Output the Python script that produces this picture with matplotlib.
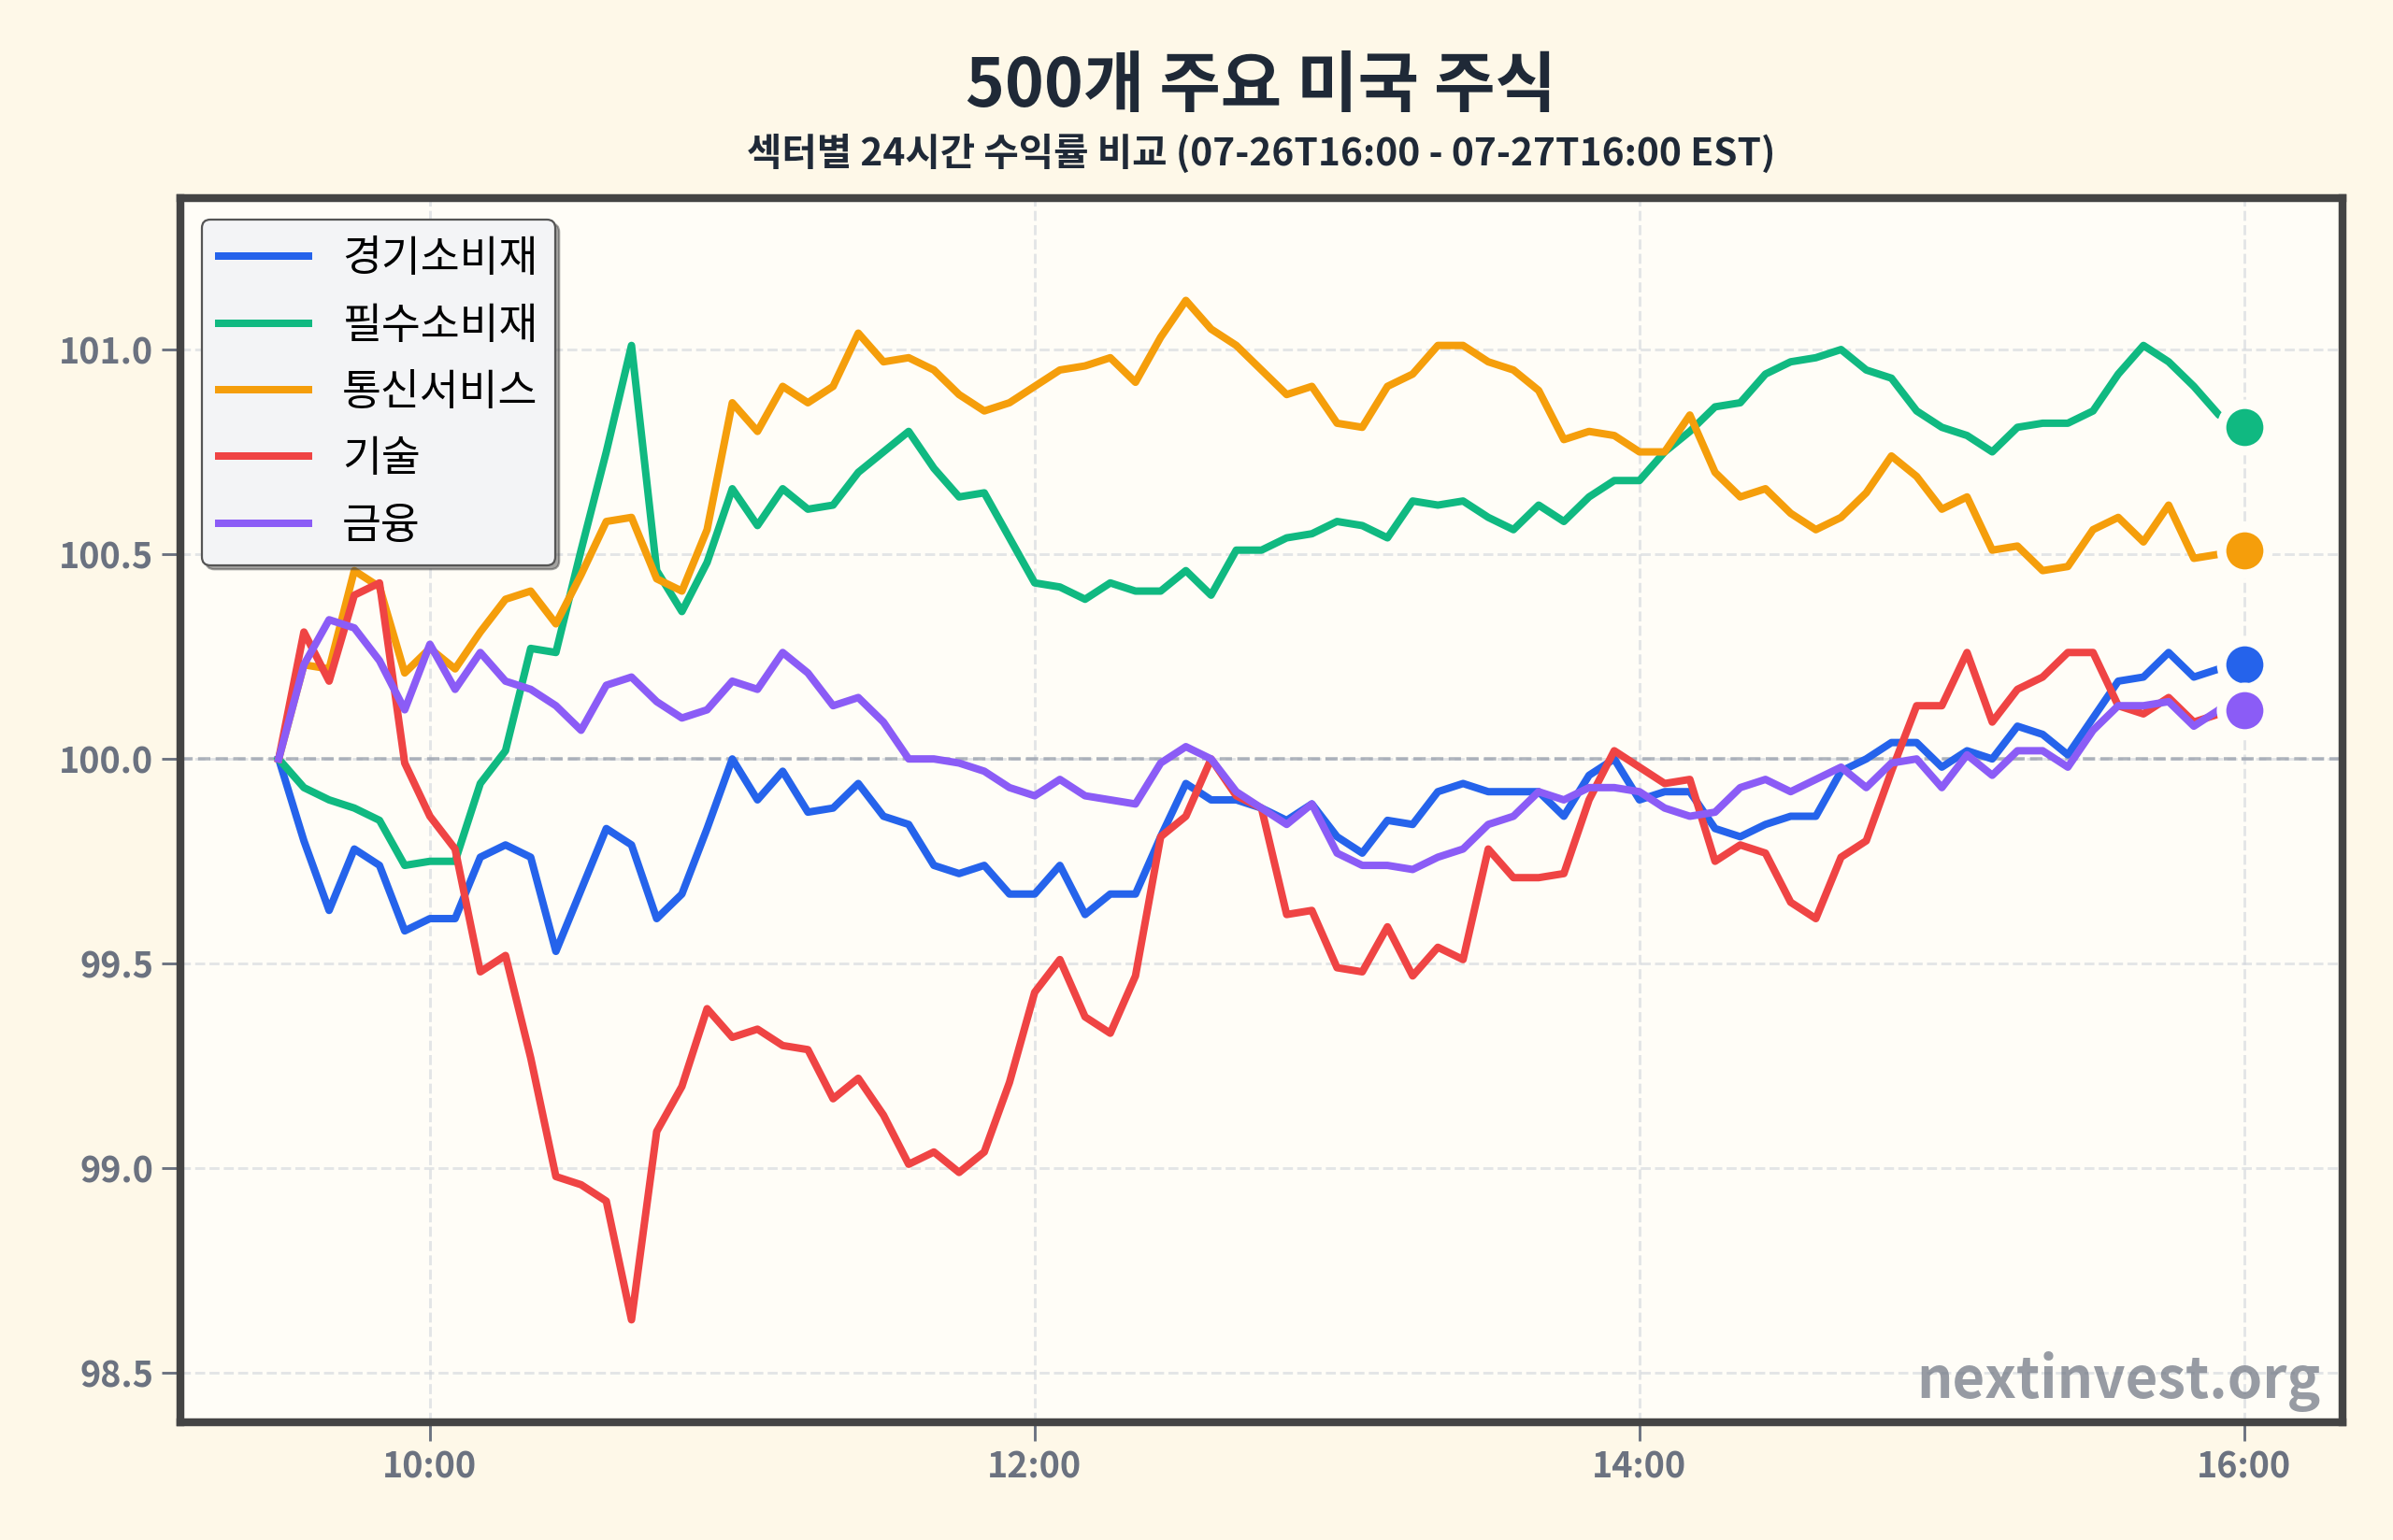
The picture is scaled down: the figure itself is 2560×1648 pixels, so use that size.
import matplotlib
matplotlib.use("Agg")
import matplotlib.pyplot as plt
import matplotlib.dates as mdates
import pandas as pd

plt.rcParams['font.family'] = ['Noto Sans CJK KR', 'DejaVu Sans']


# Data: 5-minute index values (start = 100)

times = pd.date_range("2024-07-27 09:30", "2024-07-27 16:00", freq="5min")

sectors = ["경기소비재", "필수소비재", "통신서비스", "기술", "금융"]
colors = ["#2563eb", "#10b981", "#f59e0b", "#ef4444", "#8b5cf6"]

consumer_disc = [100.00, 99.80, 99.63, 99.78, 99.74, 99.58, 99.61, 99.61, 99.76, 99.79,
                 99.76, 99.53, 99.68, 99.83, 99.79, 99.61, 99.67, 99.83, 100.00, 99.90,
                 99.97, 99.87, 99.88, 99.94, 99.86, 99.84, 99.74, 99.72, 99.74, 99.67,
                 99.67, 99.74, 99.62, 99.67, 99.67, 99.81, 99.94, 99.90, 99.90, 99.88,
                 99.85, 99.89, 99.81, 99.77, 99.85, 99.84, 99.92, 99.94, 99.92, 99.92,
                 99.92, 99.86, 99.96, 100.00, 99.90, 99.92, 99.92, 99.83, 99.81, 99.84,
                 99.86, 99.86, 99.97, 100.00, 100.04, 100.04, 99.98, 100.02, 100.00, 100.08,
                 100.06, 100.01, 100.10, 100.19, 100.20, 100.26, 100.20, 100.22, 100.23]

consumer_staples = [100.00, 99.93, 99.90, 99.88, 99.85, 99.74, 99.75, 99.75, 99.94, 100.02,
                    100.27, 100.26, 100.51, 100.75, 101.01, 100.46, 100.36, 100.48, 100.66, 100.57,
                    100.66, 100.61, 100.62, 100.70, 100.75, 100.80, 100.71, 100.64, 100.65, 100.54,
                    100.43, 100.42, 100.39, 100.43, 100.41, 100.41, 100.46, 100.40, 100.51, 100.51,
                    100.54, 100.55, 100.58, 100.57, 100.54, 100.63, 100.62, 100.63, 100.59, 100.56,
                    100.62, 100.58, 100.64, 100.68, 100.68, 100.75, 100.80, 100.86, 100.87, 100.94,
                    100.97, 100.98, 101.00, 100.95, 100.93, 100.85, 100.81, 100.79, 100.75, 100.81,
                    100.82, 100.82, 100.85, 100.94, 101.01, 100.97, 100.91, 100.84, 100.81]

comm_services = [100.00, 100.23, 100.22, 100.46, 100.42, 100.21, 100.27, 100.22, 100.31, 100.39,
                 100.41, 100.33, 100.45, 100.58, 100.59, 100.44, 100.41, 100.56, 100.87, 100.80,
                 100.91, 100.87, 100.91, 101.04, 100.97, 100.98, 100.95, 100.89, 100.85, 100.87,
                 100.91, 100.95, 100.96, 100.98, 100.92, 101.03, 101.12, 101.05, 101.01, 100.95,
                 100.89, 100.91, 100.82, 100.81, 100.91, 100.94, 101.01, 101.01, 100.97, 100.95,
                 100.90, 100.78, 100.80, 100.79, 100.75, 100.75, 100.84, 100.70, 100.64, 100.66,
                 100.60, 100.56, 100.59, 100.65, 100.74, 100.69, 100.61, 100.64, 100.51, 100.52,
                 100.46, 100.47, 100.56, 100.59, 100.53, 100.62, 100.49, 100.50, 100.51]

technology = [100.00, 100.31, 100.19, 100.40, 100.43, 99.99, 99.86, 99.78, 99.48, 99.52,
              99.27, 98.98, 98.96, 98.92, 98.63, 99.09, 99.20, 99.39, 99.32, 99.34,
              99.30, 99.29, 99.17, 99.22, 99.13, 99.01, 99.04, 98.99, 99.04, 99.21,
              99.43, 99.51, 99.37, 99.33, 99.47, 99.81, 99.86, 100.00, 99.91, 99.88,
              99.62, 99.63, 99.49, 99.48, 99.59, 99.47, 99.54, 99.51, 99.78, 99.71,
              99.71, 99.72, 99.90, 100.02, 99.98, 99.94, 99.95, 99.75, 99.79, 99.77,
              99.65, 99.61, 99.76, 99.80, 99.97, 100.13, 100.13, 100.26, 100.09, 100.17,
              100.20, 100.26, 100.26, 100.13, 100.11, 100.15, 100.09, 100.11, 100.12]

financials = [100.00, 100.23, 100.34, 100.32, 100.24, 100.12, 100.28, 100.17, 100.26, 100.19,
              100.17, 100.13, 100.07, 100.18, 100.20, 100.14, 100.10, 100.12, 100.19, 100.17,
              100.26, 100.21, 100.13, 100.15, 100.09, 100.00, 100.00, 99.99, 99.97, 99.93,
              99.91, 99.95, 99.91, 99.90, 99.89, 99.99, 100.03, 100.00, 99.92, 99.88,
              99.84, 99.89, 99.77, 99.74, 99.74, 99.73, 99.76, 99.78, 99.84, 99.86,
              99.92, 99.90, 99.93, 99.93, 99.92, 99.88, 99.86, 99.87, 99.93, 99.95,
              99.92, 99.95, 99.98, 99.93, 99.99, 100.00, 99.93, 100.01, 99.96, 100.02,
              100.02, 99.98, 100.07, 100.13, 100.13, 100.14, 100.08, 100.12, 100.12]

series = [consumer_disc, consumer_staples, comm_services, technology, financials]


# Figure

fig = plt.figure(figsize=(16, 10.3), dpi=160, facecolor="#fef8e8")
ax = fig.add_axes([0.0754, 0.0765, 0.9035, 0.7949])
ax.set_facecolor("#fffdf7")

for name, vals, c in zip(sectors, series, colors):
    ax.plot(times, vals, color=c, lw=3.6, label=name, zorder=3)
    ax.scatter(times[-1], vals[-1], s=500, color=c, edgecolor="#fffdf7", linewidth=4.5, zorder=4)

ax.axhline(100, color="#9ca3af", ls="--", lw=1.6, alpha=0.8, zorder=2)
ax.grid(True, ls="--", color="#d1d5db", alpha=0.6, lw=1.3, zorder=1)

ax.set_ylim(98.38, 101.37)
ax.set_yticks([98.5, 99.0, 99.5, 100.0, 100.5, 101.0])
ax.yaxis.set_major_formatter(plt.FormatStrFormatter("%.1f"))
ax.xaxis.set_major_locator(mdates.HourLocator(byhour=[10, 12, 14, 16]))
ax.xaxis.set_major_formatter(mdates.DateFormatter("%H:%M"))

ax.tick_params(axis="both", length=9, width=1.3, color="#6b7280", labelcolor="#6b7280",
               labelsize=17, pad=4)
for lab in ax.get_xticklabels() + ax.get_yticklabels():
    lab.set_fontweight("bold")

for s in ax.spines.values():
    s.set_color("#444444")
    s.set_linewidth(3.8)

leg = ax.legend(loc="upper left", fontsize=20.5, frameon=True, fancybox=True, shadow=True,
                framealpha=1, facecolor="#f3f4f6", edgecolor="#555555", handlelength=2.1)

ax.text(0.99, 0.02, "nextinvest.org", transform=ax.transAxes, ha="right", va="baseline",
        fontsize=27, fontweight="bold", color="#6b7280", alpha=0.7, zorder=5)

fig.text(0.527, 0.9435, "500개 주요 미국 주식", ha="center", va="center",
         fontsize=32, fontweight="bold", color="#1f2937")
fig.text(0.527, 0.8999, "섹터별 24시간 수익률 비교 (07-26T16:00 - 07-27T16:00 EST)",
         ha="center", va="center", fontsize=18.3, fontweight="bold", color="#1f2937")

fig.savefig("out.png", dpi=160, facecolor=fig.get_facecolor())
